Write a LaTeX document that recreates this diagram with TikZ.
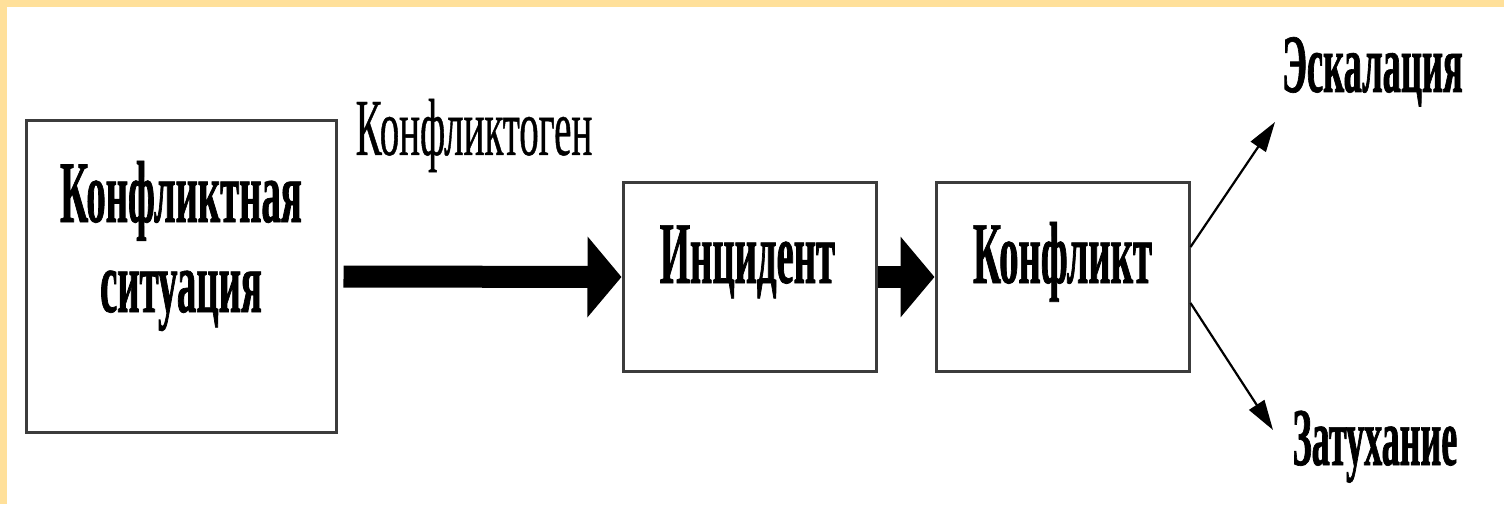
\documentclass[tikz,border=0pt]{standalone}
\usepackage{fontspec}
\setmainfont{Liberation Serif}
\newfontface\heavyserif[FakeStretch=0.44, FakeBold=0.8]{Liberation Serif Bold}
\newfontface\plainserif[FakeStretch=0.48, FakeBold=0.5]{Liberation Serif}
\usetikzlibrary{arrows.meta}

\definecolor{frameyellow}{RGB}{255,224,154}
\definecolor{boxline}{RGB}{60,60,60}

\tikzset{
  stage/.style={draw=boxline, line width=3pt, fill=white, inner sep=0pt},
  stagetext/.style={font=\heavyserif\fontsize{88}{90}\selectfont, inner sep=0pt, align=center},
  trigger/.style={font=\plainserif\fontsize{81}{83}\selectfont, inner sep=0pt, anchor=base},
  outcome/.style={font=\heavyserif\fontsize{83}{85}\selectfont, inner sep=0pt, anchor=base},
  fatarrow/.style={line width=22pt, -{Triangle[length=34pt, width=79pt]}},
  thinarrow/.style={line width=2.2pt, -{Triangle[length=30pt, width=18pt]}},
}

\begin{document}
\begin{tikzpicture}[x=1pt, y=1pt]
  % Background and frame
  \useasboundingbox (0,0) rectangle (1504,504);
  \fill[white] (0,0) rectangle (1504,504);
  \fill[frameyellow] (0,497) rectangle (1504,504);
  \fill[frameyellow] (0,0) rectangle (7,504);

  % Define the stages
  \node[stage, minimum width=310pt, minimum height=311pt] (sit) at (181,227.5) {};
  \node[stage, minimum width=253pt, minimum height=188pt] (inc) at (749.5,227) {};
  \node[stage, minimum width=253pt, minimum height=188pt] (conf) at (1062.5,227) {};

  % Stage texts
  \node[stagetext] (sit-text) at (181,258) {Конфликтная\\ситуация};
  \node[stagetext, anchor=base] (inc-text) at (747.5,221) {Инцидент};
  \node[stagetext, anchor=base] (conf-text) at (1062.5,221) {Конфликт};

  % Labels
  \node[trigger] (trig) at (474,349) {Конфликтоген};
  \node[outcome] (esc) at (1372.5,412) {Эскалация};
  \node[outcome, font=\heavyserif\fontsize{82}{84}\selectfont] (fade) at (1375,39) {Затухание};

  % Define the outcome tips
  \coordinate (esc-tip) at (1275,382);
  \coordinate (fade-tip) at (1273,74);

  % Draw the arrows
  \draw[fatarrow] ([xshift=6pt]sit.east) -- (inc.west);
  \draw[fatarrow] (inc.east) -- (conf.west);
  \draw[thinarrow] ([yshift=30pt]conf.east) -- (esc-tip);
  \draw[thinarrow] ([yshift=-26pt]conf.east) -- (fade-tip);
\end{tikzpicture}
\end{document}
